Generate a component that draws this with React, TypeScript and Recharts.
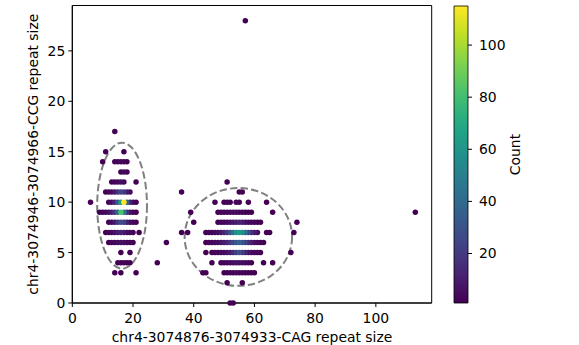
import React from "react";
import {
  ScatterChart, Scatter, XAxis, YAxis, ReferenceArea,
  BarChart, Bar,
} from "recharts";

// rows of [CAG repeat size, count] keyed by CCG repeat size
const ccg28 = [[57, 1]];
const ccg17 = [[14, 1]];
const ccg15 = [[11, 1], [17, 1]];
const ccg14 = [[10, 1], [14, 2], [15, 3], [16, 3], [17, 2], [18, 1]];
const ccg13 = [[16, 2], [17, 3], [18, 1]];
const ccg12 = [[13, 1], [14, 2], [15, 4], [16, 5], [17, 3], [21, 1], [51, 1]];
const ccg11 = [[11, 1], [12, 2], [13, 4], [14, 8], [15, 16], [16, 24], [17, 18], [18, 8], [19, 3], [36, 1], [55, 1], [56, 1]];
const ccg10 = [[6, 1], [12, 2], [13, 5], [14, 12], [15, 30], [16, 62], [17, 115], [18, 35], [19, 10], [20, 3], [21, 1],
  [47, 1], [50, 1], [51, 2], [52, 1], [54, 2], [55, 1], [58, 1], [64, 1]];
const ccg9 = [[9, 1], [10, 2], [11, 3], [12, 6], [13, 10], [14, 18], [15, 38], [16, 82], [17, 45], [18, 15], [19, 5], [20, 2], [21, 1],
  [39, 1], [48, 1], [49, 2], [50, 3], [51, 3], [52, 4], [53, 5], [54, 4], [55, 3], [56, 2], [57, 1], [58, 1], [59, 1], [66, 1], [113, 1]];
const ccg8 = [[12, 2], [13, 4], [14, 8], [15, 18], [16, 28], [17, 22], [18, 9], [19, 4], [20, 2], [21, 1],
  [40, 1], [48, 1], [49, 2], [50, 3], [51, 4], [52, 6], [53, 8], [54, 10], [55, 12], [56, 9], [57, 6], [58, 4], [59, 3], [60, 2], [61, 1], [62, 1], [74, 1]];
const ccg7 = [[11, 1], [12, 2], [13, 3], [14, 6], [15, 10], [16, 12], [17, 8], [18, 5], [19, 3], [20, 1], [22, 1],
  [36, 1], [38, 1], [44, 1], [45, 2], [46, 3], [47, 4], [48, 6], [49, 8], [50, 12], [51, 18], [52, 28], [53, 42], [54, 58],
  [55, 62], [56, 55], [57, 40], [58, 25], [59, 15], [60, 9], [61, 5], [64, 1], [65, 1], [73, 1]];
const ccg6 = [[12, 1], [13, 2], [14, 3], [15, 5], [16, 6], [17, 5], [18, 3], [19, 2], [20, 1], [31, 1],
  [44, 1], [45, 2], [46, 3], [47, 4], [48, 5], [49, 7], [50, 9], [51, 12], [52, 18], [53, 25], [54, 32], [55, 36], [56, 30],
  [57, 22], [58, 15], [59, 9], [60, 6], [61, 4], [62, 2], [63, 1]];
const ccg5 = [[16, 1], [19, 1], [44, 1], [46, 1], [47, 1], [48, 2], [49, 3], [50, 4], [51, 6], [52, 9], [53, 14], [54, 22],
  [55, 28], [56, 20], [57, 12], [58, 7], [59, 4], [60, 3], [61, 2], [62, 1], [72, 1]];
const ccg4 = [[15, 1], [16, 2], [17, 2], [18, 1], [19, 1], [28, 1], [46, 1], [49, 1], [50, 2], [51, 3], [52, 4], [53, 5],
  [54, 6], [55, 6], [56, 5], [57, 4], [58, 3], [59, 1], [63, 1], [66, 1]];
const ccg3 = [[14, 1], [16, 1], [21, 1], [43, 1], [44, 1], [50, 1], [51, 1], [52, 2], [53, 2], [54, 3], [55, 2], [56, 2],
  [57, 1], [58, 1], [59, 1], [60, 1]];
const ccg2 = [[51, 1], [56, 1]];
const ccg0 = [[52, 1], [53, 1]];

const rowSizes = [28, 17, 15, 14, 13, 12, 11, 10, 9, 8, 7, 6, 5, 4, 3, 2, 0];
const rowData = [ccg28, ccg17, ccg15, ccg14, ccg13, ccg12, ccg11, ccg10, ccg9, ccg8, ccg7, ccg6, ccg5, ccg4, ccg3, ccg2, ccg0];

const xTicks = [0, 20, 40, 60, 80, 100];
const yTicks = [0, 5, 10, 15, 20, 25];
const cbarTicks = [20, 40, 60, 80, 100];
const countRange = [1, 115];

// cluster ellipses as [x1, x2, y1, y2] bounds
const clusterA = [8.2, 24.6, 3.4, 15.9];
const clusterB = [37, 72.4, 1.7, 11.4];

const VIRIDIS = ["#440154", "#482475", "#414487", "#355f8d", "#2a788e", "#21918c",
  "#22a884", "#44bf70", "#7ad151", "#bddf26", "#fde725"];

const hex = (h: string) => [1, 3, 5].map((i) => parseInt(h.slice(i, i + 2), 16));
function viridis(v: number) {
  let t = (v - countRange[0]) / (countRange[1] - countRange[0]);
  t = Math.max(0, Math.min(1, t)) * (VIRIDIS.length - 1);
  const i = Math.min(Math.floor(t), VIRIDIS.length - 2);
  const f = t - i;
  const a = hex(VIRIDIS[i]), b = hex(VIRIDIS[i + 1]);
  const c = a.map((av, k) => Math.round(av + (b[k] - av) * f));
  return `rgb(${c[0]},${c[1]},${c[2]})`;
}

const points = rowData
  .flatMap((row, i) => row.map(([x, n]) => ({ x, y: rowSizes[i], n })))
  .sort((a, b) => a.n - b.n);

const FONT = "DejaVu Sans";
const tick = { fill: "#000", fontSize: 13.9, fontFamily: FONT };

const ellipse = (p: any) => (
  <ellipse cx={p.x + p.width / 2} cy={p.y + p.height / 2} rx={Math.abs(p.width) / 2} ry={Math.abs(p.height) / 2}
    fill="none" stroke="#808080" strokeWidth={2} strokeDasharray="7.4 3.2" />
);

export default function App() {
  return (
    <div style={{ position: "absolute", left: 0, top: 0, width: 579, height: 345, background: "#fff" }}>
      <div style={{ position: "absolute", left: 0, top: 0 }}>
        <ScatterChart width={579} height={345} margin={{ top: 5.5, right: 147.3, bottom: 0, left: 0 }}>
          <XAxis type="number" dataKey="x" domain={[0, 118.4]} ticks={xTicks} height={42}
            tick={tick} tickSize={4} tickMargin={6} stroke="#000" tickLine={{ stroke: "#000" }}
            label={{ value: "chr4-3074876-3074933-CAG repeat size", position: "insideBottom", offset: 3,
              fill: "#000", fontSize: 13.9, fontFamily: FONT }} />
          <YAxis type="number" dataKey="y" domain={[0, 29.5]} ticks={yTicks} width={72.3}
            tick={tick} tickSize={4} tickMargin={3} stroke="#000" tickLine={{ stroke: "#000" }}
            label={{ value: "chr4-3074946-3074966-CCG repeat size", angle: -90, position: "center", dx: -3,
              fill: "#000", fontSize: 13.9, fontFamily: FONT }} />
          <Scatter data={points} isAnimationActive={false}
            shape={(p: any) => <circle cx={p.cx} cy={p.cy} r={2.75} fill={viridis(p.payload.n)} />} />
          <ReferenceArea x1={clusterA[0]} x2={clusterA[1]} y1={clusterA[2]} y2={clusterA[3]} shape={ellipse} />
          <ReferenceArea x1={clusterB[0]} x2={clusterB[1]} y1={clusterB[2]} y2={clusterB[3]} shape={ellipse} />
          <ReferenceArea x1={0} x2={118.4} y1={0} y2={29.5} fill="none" fillOpacity={0} stroke="#000" strokeWidth={1} />
        </ScatterChart>
      </div>

      {/* Colorbar */}
      <div style={{ position: "absolute", left: 440, top: 0 }}>
        <BarChart width={139} height={345} data={[{ k: "c", v: countRange[1] }]} barCategoryGap={0}
          margin={{ top: 6, right: 41, bottom: 42, left: 14 }}>
          <defs>
            <linearGradient id="viridisGrad" x1="0" y1="1" x2="0" y2="0">
              {VIRIDIS.map((c, i) => (
                <stop key={i} offset={`${(i / (VIRIDIS.length - 1)) * 100}%`} stopColor={c} />
              ))}
            </linearGradient>
          </defs>
          <XAxis dataKey="k" hide />
          <YAxis orientation="right" type="number" domain={countRange} ticks={cbarTicks} width={70}
            tick={tick} tickSize={4} tickMargin={7} axisLine={false} tickLine={{ stroke: "#000" }}
            label={{ value: "Count", angle: -90, position: "center", dx: 12,
              fill: "#000", fontSize: 13.9, fontFamily: FONT }} />
          <Bar dataKey="v" fill="url(#viridisGrad)" stroke="#000" strokeWidth={0.8} isAnimationActive={false} />
        </BarChart>
      </div>
    </div>
  );
}
